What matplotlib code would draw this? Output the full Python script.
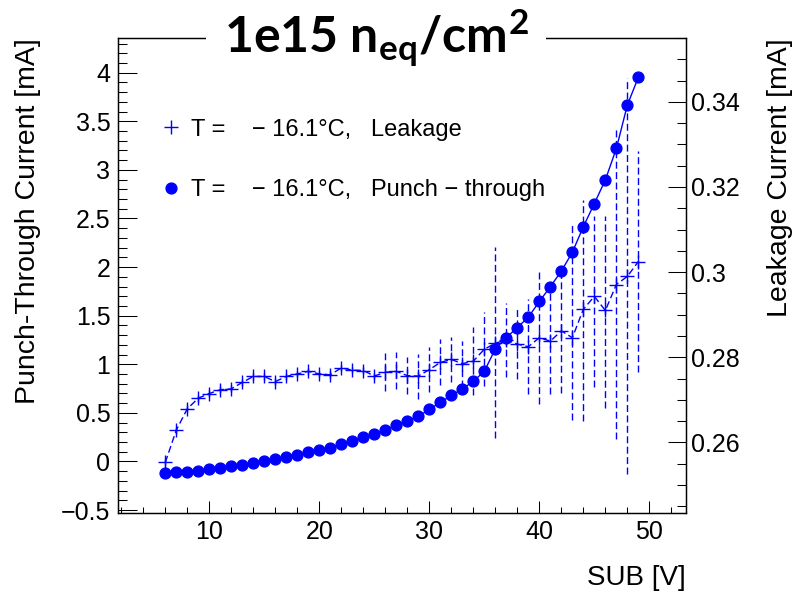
import numpy as np
import matplotlib
matplotlib.use("Agg")
import matplotlib.pyplot as plt
from matplotlib.lines import Line2D
from matplotlib.ticker import MultipleLocator, FuncFormatter

plt.rcParams['font.family'] = ['Liberation Sans', 'DejaVu Sans']
plt.rcParams['mathtext.fontset'] = 'custom'
plt.rcParams['mathtext.rm'] = 'Lato:bold'
plt.rcParams['mathtext.it'] = 'Lato:bold'
plt.rcParams['mathtext.bf'] = 'Lato:bold'

# SUB voltage [V]
sub_v = np.arange(6, 50)

# punch-through current [mA] (left axis)
punch = [-0.120, -0.113, -0.103, -0.093, -0.079, -0.065, -0.051, -0.034, -0.017, 0.000,
         0.021, 0.045, 0.066, 0.093, 0.120, 0.144, 0.179, 0.216, 0.251, 0.285,
         0.327, 0.371, 0.419, 0.464, 0.536, 0.608, 0.680, 0.746, 0.825, 0.928,
         1.159, 1.275, 1.378, 1.485, 1.646, 1.798, 1.959, 2.152, 2.416, 2.654,
         2.897, 3.220, 3.667, 3.953]

# leakage current [mA] (right axis)
leak = [0.2553, 0.2629, 0.2679, 0.2704, 0.2715, 0.2724, 0.2726, 0.2741, 0.2755, 0.2755,
        0.2743, 0.2755, 0.2761, 0.2767, 0.2761, 0.2759, 0.2775, 0.2770, 0.2769, 0.2756,
        0.2765, 0.2767, 0.2757, 0.2756, 0.2771, 0.2788, 0.2795, 0.2785, 0.2791, 0.2819,
        0.2833, 0.2841, 0.2831, 0.2825, 0.2846, 0.2838, 0.2862, 0.2846, 0.2913, 0.2943,
        0.2910, 0.2971, 0.2990, 0.3025]

# errori sul leakage (basso / alto)
leak_err_lo = [0.0008] * 20 + [
    0.0043, 0.0041, 0.0042, 0.0053, 0.0052, 0.0054, 0.0052, 0.0054, 0.0079, 0.0087,
    0.0222, 0.0087, 0.0082, 0.0112, 0.0156, 0.0124, 0.0145, 0.0193, 0.0263, 0.0212,
    0.0228, 0.0363, 0.0464, 0.0260]
leak_err_hi = [0.0008] * 20 + [
    0.0044, 0.0045, 0.0043, 0.0051, 0.0054, 0.0054, 0.0052, 0.0054, 0.0081, 0.0087,
    0.0225, 0.0087, 0.0087, 0.0111, 0.0158, 0.0124, 0.0135, 0.0265, 0.0256, 0.0190,
    0.0223, 0.0365, 0.0465, 0.0260]

label_leak = "T =    \u2212 16.1\u00b0C,   Leakage"
label_punch = "T =    \u2212 16.1\u00b0C,   Punch \u2212 through"

blue = '#0000ff'

fig = plt.figure(figsize=(8.08, 5.98), dpi=100)
ax1 = fig.add_axes([0.146, 0.1426, 0.7026, 0.7939])
ax2 = ax1.twinx()

# punch-through
ax1.plot(sub_v, punch, color=blue, lw=1.0, marker='o', ms=7.8, zorder=3)

# leakage con barre d'errore tratteggiate
eb = ax2.errorbar(sub_v, leak, yerr=[leak_err_lo, leak_err_hi], fmt='none',
                  ecolor=blue, elinewidth=1.0, capsize=0)
eb[2][0].set_linestyle((0, (5, 2.5)))
ax2.plot(sub_v, leak, color=blue, lw=1.0, ls=(0, (5, 2.5)), marker='+', ms=9.5, mew=1.0)

ax1.set_xlim(1.7, 53.3)
ax1.set_ylim(-0.527, 4.357)
ax2.set_ylim(0.2435, 0.355)

fmt = FuncFormatter(lambda v, p: f"{v:g}".replace('-', '\u2212'))

ax1.xaxis.set_major_locator(MultipleLocator(10))
ax1.xaxis.set_minor_locator(MultipleLocator(2))
ax1.yaxis.set_major_locator(MultipleLocator(0.5))
ax1.yaxis.set_minor_locator(MultipleLocator(0.1))
ax1.yaxis.set_major_formatter(fmt)
ax2.yaxis.set_major_locator(MultipleLocator(0.02))
ax2.yaxis.set_minor_locator(MultipleLocator(0.005))
ax2.yaxis.set_major_formatter(fmt)

ax1.tick_params(axis='x', which='both', direction='in', top=False, labelsize=18, pad=5, width=0.75)
ax1.tick_params(axis='x', which='major', length=8.6)
ax1.tick_params(axis='x', which='minor', length=4.3)
ax1.tick_params(axis='y', which='both', direction='in', right=False, labelsize=18, pad=5.5, width=0.75)
ax1.tick_params(axis='y', which='major', length=13.5)
ax1.tick_params(axis='y', which='minor', length=6.5)
ax2.tick_params(axis='y', which='both', direction='in', labelsize=18, pad=3.6, width=0.75)
ax2.tick_params(axis='y', which='major', length=13)
ax2.tick_params(axis='y', which='minor', length=6.5)

for ax in (ax1, ax2):
    for s in ax.spines.values():
        s.set_linewidth(0.9)

ax1.set_xlabel("SUB [V]", fontsize=20, loc='right')
ax1.xaxis.set_label_coords(1.0, -0.138)
ax1.xaxis.label.set_va('center')
ax1.set_ylabel("Punch-Through Current [mA]", fontsize=20.5, loc='top')
ax1.yaxis.set_label_coords(-0.135, 1.0)
ax2.set_ylabel("Leakage Current [mA]", fontsize=20.5, loc='top')
ax2.yaxis.set_label_coords(1.143, 1.0)

handles = [Line2D([], [], color=blue, ls='none', marker='+', ms=9.5, mew=1.0),
           Line2D([], [], color=blue, ls='none', marker='o', ms=7.8)]
ax2.legend(handles, [label_leak, label_punch], loc='upper left',
           bbox_to_anchor=(0.058, 0.85), frameon=False, fontsize=17,
           handlelength=0.88, handletextpad=0.42, labelspacing=1.62, borderaxespad=0)

fig.text(0.4653, 0.9114, r"1e15 n$_{\rm eq}$/cm$^{\rm 2}$", fontsize=36,
         fontfamily='Lato', fontweight='bold', ha='center', va='baseline',
         bbox=dict(facecolor='white', edgecolor='none', pad=13))

fig.savefig("out.png", dpi=100)
